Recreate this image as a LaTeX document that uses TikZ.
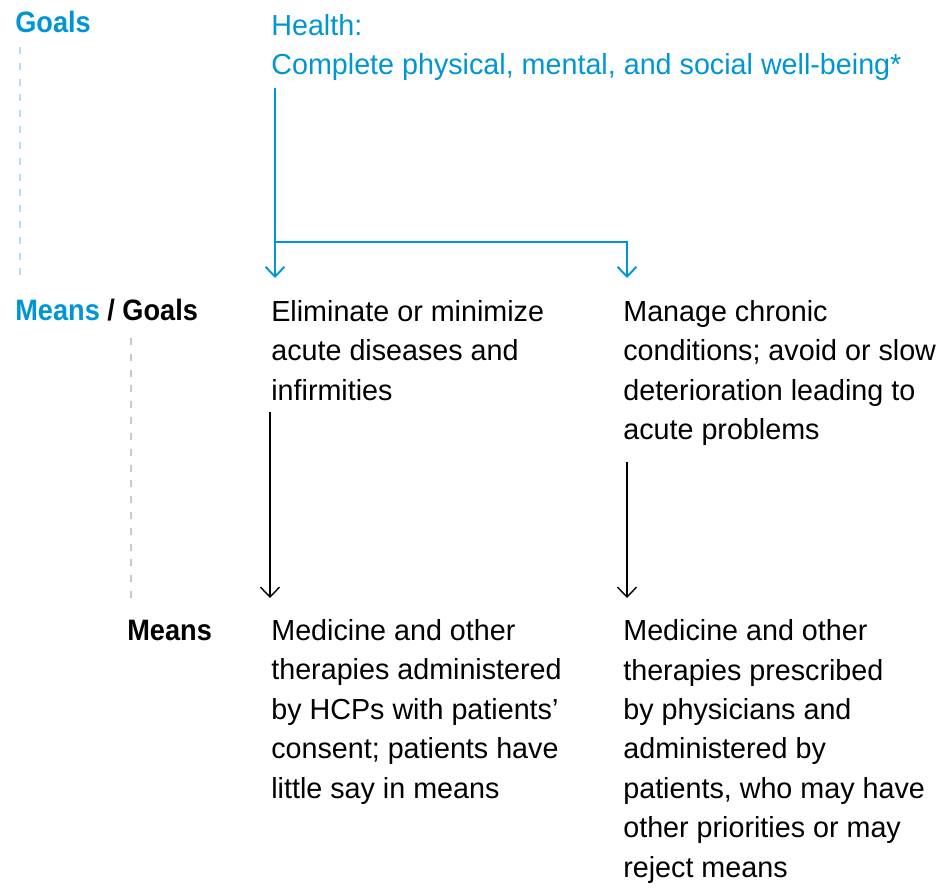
\documentclass[tikz,border=0pt]{standalone}
\usepackage{fontspec}
\setmainfont[FakeStretch=0.99]{Liberation Sans}
\newfontfamily\lblfont[FakeStretch=0.92]{Liberation Sans}
\usetikzlibrary{arrows.meta}

\definecolor{hblue}{RGB}{0,150,214}
\definecolor{dashblue}{RGB}{185,222,244}
\definecolor{dashgray}{RGB}{200,200,200}

\tikzset{
  txt/.style={anchor=base west, inner sep=0pt, align=left,
    font=\fontsize{16.5}{22.4}\selectfont},
  lbl/.style={txt, font=\fontsize{16.8}{22.4}\selectfont\lblfont\bfseries},
  tip/.style={-{Straight Barb[length=5.6pt,width=10.8pt]}},
  bluearrow/.style={tip, draw=hblue, line width=1.1pt},
  blackarrow/.style={tip, draw=black, line width=0.8pt},
  guide/.style={line width=1.3pt, dash pattern=on 4pt off 5pt},
}

\begin{document}
\begin{tikzpicture}[x=0.02cm, y=-0.02cm]
    \useasboundingbox (0,0) rectangle (944,887);

    % level labels
    \node[lbl, text=hblue] (goals) at (15,32) {Goals};
    \node[lbl] (meansgoals) at (15,320) {\textcolor{hblue}{Means} / Goals};
    \node[lbl] (means) at (127,640) {Means};

    % boxes of text (anchored at the base of their last line)
    \node[txt, text=hblue] (health) at (271,74.5) {Health:\\Complete physical, mental, and social well-being*};
    \node[txt] (acute) at (271,400) {Eliminate or minimize\\acute diseases and\\infirmities};
    \node[txt] (chronic) at (623,439.5) {Manage chronic\\conditions; avoid or slow\\deterioration leading to\\acute problems};
    \node[txt] (medA) at (271,798) {Medicine and other\\therapies administered\\by HCPs with patients’\\consent; patients have\\little say in means};
    \node[txt] (medB) at (623,877) {Medicine and other\\therapies prescribed\\by physicians and\\administered by\\patients, who may have\\other priorities or may\\reject means};

    % connector ends
    \coordinate (hstart) at (275,88);
    \coordinate (hsplit) at (275,242);
    \coordinate (tipA) at (275,278);
    \coordinate (tipB) at (627,278);
    \coordinate (astart) at (270,412);
    \coordinate (tipC) at (270,598);
    \coordinate (cstart) at (627,462);
    \coordinate (tipD) at (627,598);

    % guides
    \draw[guide, draw=dashblue] (20,47) -- (20,278);
    \draw[guide, draw=dashgray] (131,338) -- (131,598);

    % arrows
    \draw[bluearrow] (hstart) -- (tipA);
    \draw[bluearrow] (hsplit) -| (tipB);
    \draw[blackarrow] (astart) -- (tipC);
    \draw[blackarrow] (cstart) -- (tipD);
\end{tikzpicture}
\end{document}
